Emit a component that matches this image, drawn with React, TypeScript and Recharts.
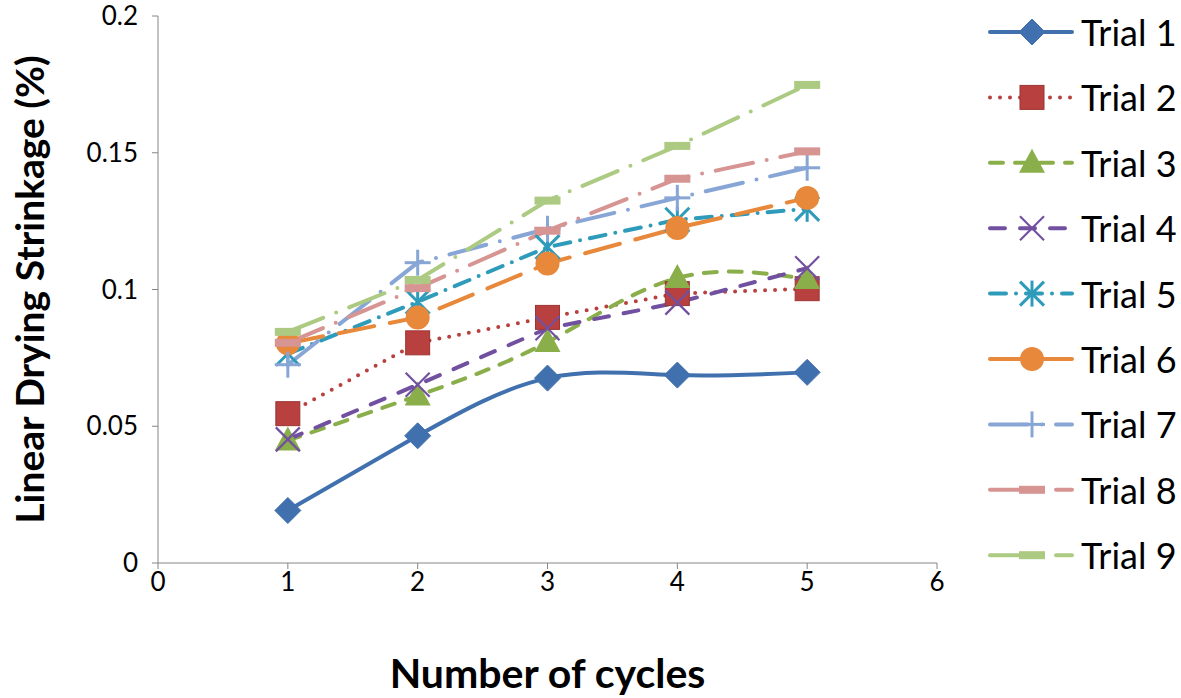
import { LineChart, Line, XAxis, YAxis, Legend } from "recharts";

const cycles = [1, 2, 3, 4, 5];
const trial1 = [0.0192, 0.0465, 0.0676, 0.0687, 0.0697];
const trial2 = [0.0546, 0.0805, 0.0898, 0.0985, 0.1003];
const trial3 = [0.0448, 0.0612, 0.0808, 0.1042, 0.1038];
const trial4 = [0.0452, 0.0652, 0.0858, 0.0952, 0.1078];
const trial5 = [0.0765, 0.0955, 0.1155, 0.1255, 0.1295];
const trial6 = [0.0803, 0.0898, 0.1095, 0.1225, 0.1335];
const trial7 = [0.0725, 0.1098, 0.1222, 0.1335, 0.1445];
const trial8 = [0.0805, 0.1005, 0.1215, 0.1405, 0.1505];
const trial9 = [0.0845, 0.1035, 0.1325, 0.1525, 0.1748];

const xTicks = [0, 1, 2, 3, 4, 5, 6];
const yTicks = [0, 0.05, 0.1, 0.15, 0.2];

const FONT = "Lato, 'Open Sans', sans-serif";

type MarkerKind = "diamond" | "square" | "triangle" | "x" | "star" | "circle" | "plus" | "dash";

const series: { key: string; name: string; values: number[]; color: string; dash?: string; marker: MarkerKind; curve: "natural" | "linear" }[] = [
  { key: "t1", name: "Trial 1", values: trial1, color: "#4070AE", marker: "diamond", curve: "natural" },
  { key: "t2", name: "Trial 2", values: trial2, color: "#B8403E", dash: "0 10", marker: "square", curve: "linear" },
  { key: "t3", name: "Trial 3", values: trial3, color: "#8AAE4A", dash: "13 12", marker: "triangle", curve: "natural" },
  { key: "t4", name: "Trial 4", values: trial4, color: "#7150A0", dash: "15 15", marker: "x", curve: "linear" },
  { key: "t5", name: "Trial 5", values: trial5, color: "#2F9BBA", dash: "16 10 0 10", marker: "star", curve: "linear" },
  { key: "t6", name: "Trial 6", values: trial6, color: "#E8883A", dash: "36 16", marker: "circle", curve: "linear" },
  { key: "t7", name: "Trial 7", values: trial7, color: "#88A6D5", dash: "38 14 0 14", marker: "plus", curve: "linear" },
  { key: "t8", name: "Trial 8", values: trial8, color: "#D69492", dash: "38 14 0 14", marker: "dash", curve: "linear" },
  { key: "t9", name: "Trial 9", values: trial9, color: "#ACCA82", dash: "38 14 0 14", marker: "dash", curve: "linear" },
];

const data = cycles.map((c, i) => {
  const row: Record<string, number> = { cycle: c };
  series.forEach((s) => {
    row[s.key] = s.values[i];
  });
  return row;
});

const Marker = ({ kind, cx, cy, color }: { kind: MarkerKind; cx: number; cy: number; color: string }) => {
  switch (kind) {
    case "diamond":
      return <path d={`M${cx},${cy - 13} L${cx + 13},${cy} L${cx},${cy + 13} L${cx - 13},${cy} Z`} fill={color} stroke={color} />;
    case "square":
      return <rect x={cx - 12} y={cy - 12} width={24} height={24} fill={color} stroke="#9c3533" strokeWidth={1} />;
    case "triangle":
      return <path d={`M${cx},${cy - 14} L${cx + 13},${cy + 10} L${cx - 13},${cy + 10} Z`} fill={color} />;
    case "x":
      return (
        <g stroke={color} strokeWidth={2.2}>
          <line x1={cx - 12} y1={cy - 12} x2={cx + 12} y2={cy + 12} />
          <line x1={cx - 12} y1={cy + 12} x2={cx + 12} y2={cy - 12} />
        </g>
      );
    case "star":
      return (
        <g stroke={color} strokeWidth={3}>
          <line x1={cx - 12} y1={cy - 12} x2={cx + 12} y2={cy + 12} />
          <line x1={cx - 12} y1={cy + 12} x2={cx + 12} y2={cy - 12} />
          <line x1={cx} y1={cy - 13} x2={cx} y2={cy + 13} />
        </g>
      );
    case "circle":
      return <circle cx={cx} cy={cy} r={12} fill={color} />;
    case "plus":
      return (
        <g stroke={color} strokeWidth={3}>
          <line x1={cx - 13} y1={cy} x2={cx + 13} y2={cy} />
          <line x1={cx} y1={cy - 13} x2={cx} y2={cy + 13} />
        </g>
      );
    case "dash":
      return <rect x={cx - 13} y={cy - 4} width={26} height={8} fill={color} />;
  }
  return null;
};

const LegendBox = () => (
  <svg width={201} height={698} style={{ display: "block" }}>
    {series.map((s, i) => {
      const y = 32 + i * 65.4;
      return (
        <g key={s.key}>
          <line
            x1={12}
            x2={94}
            y1={y}
            y2={y}
            stroke={s.color}
            strokeWidth={4}
            strokeDasharray={s.dash}
            strokeLinecap="round"
          />
          <Marker kind={s.marker} cx={54} cy={y} color={s.color} />
          <text x={103} y={y} dominantBaseline="central" fontFamily={FONT} fontSize={36} fill="#000">
            {s.name}
          </text>
        </g>
      );
    })}
  </svg>
);

const YTitle = (props: any) => {
  const vb = props.viewBox || { x: 0, y: 16, width: 158, height: 547 };
  const x = vb.x + 29;
  const y = vb.y + vb.height / 2;
  return (
    <text x={x} y={y} transform={`rotate(-90, ${x}, ${y})`} textAnchor="middle" dominantBaseline="central" fontFamily={FONT} fontWeight="bold" fontSize={39} fill="#000">
      Linear Drying Strinkage (%)
    </text>
  );
};

const XTitle = (props: any) => {
  const vb = props.viewBox || { x: 158, y: 563, width: 779, height: 135 };
  return (
    <text x={vb.x + vb.width / 2} y={vb.y + 109} textAnchor="middle" dominantBaseline="central" fontFamily={FONT} fontWeight="bold" fontSize={41} fill="#000">
      Number of cycles
    </text>
  );
};

const tickStyle = { fontFamily: FONT, fontSize: 26, fill: "#000" };

export default function App() {
  return (
    <div style={{ position: "absolute", left: 0, top: 0, width: 1181, height: 698, background: "#fff" }}>
      <LineChart width={1181} height={698} data={data} margin={{ top: 16, right: 244, bottom: 0, left: 0 }}>
        <XAxis
          dataKey="cycle"
          type="number"
          domain={[0, 6]}
          ticks={xTicks}
          interval={0}
          height={135}
          stroke="#868686"
          tickSize={6}
          tickMargin={4}
          tick={tickStyle}
          label={<XTitle />}
        />
        <YAxis
          type="number"
          domain={[0, 0.2]}
          ticks={yTicks}
          interval={0}
          width={158}
          stroke="#868686"
          tickSize={6}
          tickMargin={14}
          tick={tickStyle}
          label={<YTitle />}
        />
        <Legend
          layout="horizontal"
          verticalAlign="middle"
          align="center"
          wrapperStyle={{ left: 978, top: 0, width: 201, height: 698 }}
          content={() => <LegendBox />}
        />
        {series.map((s) => (
          <Line
            key={s.key}
            dataKey={s.key}
            name={s.name}
            type={s.curve}
            stroke={s.color}
            strokeWidth={4}
            strokeDasharray={s.dash}
            strokeLinecap="round"
            isAnimationActive={false}
            dot={(p: any) => <Marker key={`${s.key}-${p.index}`} kind={s.marker} cx={p.cx} cy={p.cy} color={s.color} />}
            activeDot={false}
          />
        ))}
      </LineChart>
    </div>
  );
}
